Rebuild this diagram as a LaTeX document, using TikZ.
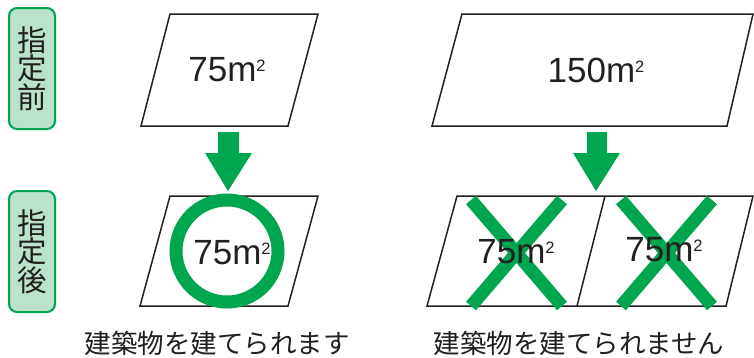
\documentclass[tikz,border=0pt]{standalone}
\usepackage{fontspec}
\setmainfont{Liberation Sans}
\newfontfamily\jpfont{Noto Sans CJK JP}
\definecolor{mygreen}{RGB}{0,165,80}
\definecolor{labelfill}{RGB}{187,226,202}
\definecolor{ink}{RGB}{35,31,32}
\newcommand\areatext[1]{#1m\raisebox{10pt}{\fontsize{16.5}{16.5}\selectfont 2}}
\tikzset{
  lot/.style={draw=ink, line width=1.5pt, line join=miter},
  stagebox/.style={draw=mygreen, line width=2pt, fill=labelfill, rounded corners=8pt,
    minimum width=46pt, minimum height=121pt, inner sep=0pt, align=center,
    text=ink, font=\jpfont\fontsize{29.5}{28.5}\selectfont},
  area/.style={inner sep=0pt, text=ink, font=\fontsize{35}{40}\selectfont},
  caption/.style={inner sep=0pt, text=ink, font=\jpfont\fontsize{26.5}{30}\selectfont},
  fatarrow/.style={fill=mygreen, draw=none},
  okring/.style={draw=mygreen, line width=13pt},
  ngcross/.style={draw=mygreen, line width=13pt, line cap=butt}
}
\begin{document}
\begin{tikzpicture}[x=1pt,y=-1pt]
\useasboundingbox (0,0) rectangle (754,357);
% stage labels
\node[stagebox] (before) at (32,68.5) {指\\定\\前};
\node[stagebox] (after) at (32,251.5) {指\\定\\後};
% lots
\draw[lot] (170,14) -- (318,14) -- (288,126) -- (141,126) -- cycle;
\draw[lot] (170,196) -- (318,196) -- (288,306) -- (140,306) -- cycle;
\draw[lot] (462,14) -- (753,14) -- (727,126) -- (432,126) -- cycle;
\draw[lot] (457,196) -- (753,196) -- (726,306) -- (427,306) -- cycle;
\draw[lot] (605,196) -- (577,306);
% arrows
\draw[fatarrow] (218,132) -- (239,132) -- (239,153) -- (252,153) -- (228,191) -- (205,153) -- (218,153) -- cycle;
\draw[fatarrow] (587,132) -- (607,132) -- (607,153) -- (620,153) -- (596,191) -- (573,153) -- (587,153) -- cycle;
% ok ring
\draw[okring] (227,251) circle[radius=51];
% crosses
\draw[ngcross] (471,200) -- (562,306);
\draw[ngcross] (562,200) -- (471,306);
\draw[ngcross] (621,200) -- (712,306);
\draw[ngcross] (712,200) -- (621,306);
% texts
\node[area] (a1) at (227,70) {\areatext{75}};
\node[area] (a2) at (596,70) {\areatext{150}};
\node[area] (a3) at (232,253) {\areatext{75}};
\node[area] (a4) at (516,252) {\areatext{75}};
\node[area] (a5) at (664,250) {\areatext{75}};
\node[caption] (c1) at (217,343) {建築物を建てられます};
\node[caption] (c2) at (579,343) {建築物を建てられません};
\end{tikzpicture}
\end{document}
